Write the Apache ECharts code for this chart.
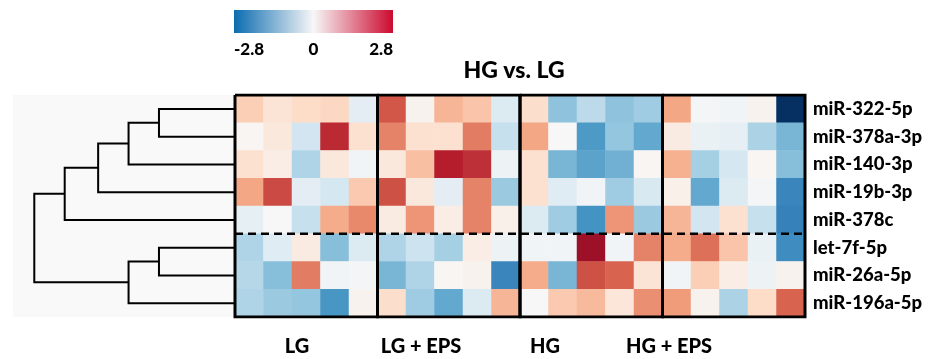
<!DOCTYPE html>
<html>
<head>
<meta charset="utf-8">
<script src="https://cdn.jsdelivr.net/npm/echarts@6/dist/echarts.min.js"></script>
<style>
  html, body { margin: 0; padding: 0; background: #fff; }
  #chart { width: 930px; height: 359px; }
</style>
</head>
<body>
<div id="chart"></div>
<script>
const genes = ['miR-322-5p', 'miR-378a-3p', 'miR-140-3p', 'miR-19b-3p', 'miR-378c', 'let-7f-5p', 'miR-26a-5p', 'miR-196a-5p'];
const groups = ['LG', 'LG + EPS', 'HG', 'HG + EPS'];
const repsPerGroup = 5;
const colorTicks = [-2.8, 0, 2.8];

// z-scores per gene, 5 replicates x 4 groups
const mir322 = [0.7, 0.4, 0.55, 0.6, -0.3, 1.75, 0.1, 0.95, 0.8, -0.4, 0.5, -1.15, -0.75, -1.15, -1.0, 1.1, -0.05, -0.1, 0.1, -2.8];
const mir378a = [0.05, 0.3, -0.55, 2.1, 0.45, 1.4, 0.45, 0.45, 1.45, -0.65, 1.1, 0, -1.6, -1.1, -1.45, 0.25, -0.2, -0.25, -0.9, -1.3];
const mir140 = [0.45, 0.2, -0.85, 0.3, -0.1, 0.3, 0.85, 2.2, 2.05, -0.15, 0.45, -1.3, -1.5, -1.35, 0.05, 1.0, -0.95, -0.5, 0.05, -1.2];
const mir19b = [1.1, 1.85, -0.3, -0.5, 0.75, 1.8, 0.3, -0.3, 1.4, -1.05, 0.45, -0.35, -0.1, -1.0, -0.45, 0.15, -1.45, -0.4, -0.05, -1.85];
const mir378c = [-0.25, 0, -0.65, 1.05, 1.35, 0.25, 1.25, 0.2, 1.4, 0.15, -0.4, -1.0, -1.68, 1.25, -1.05, 0.95, -0.55, 0.45, -0.65, -1.9];
const let7f = [-0.85, -0.35, 0.25, -1.2, -0.4, -0.85, -0.6, -0.95, 0.2, -0.15, -0.1, -0.1, 2.4, -0.1, 1.4, 1.05, 1.55, 0.8, -0.2, -1.75];
const mir26a = [-0.8, -1.2, 1.45, -0.1, -0.05, -1.3, -0.85, 0.05, 0.1, -1.85, 1.05, -1.3, 1.8, 1.65, 0.4, -0.1, 0.7, 0.2, -0.15, 0.1];
const mir196a = [-0.85, -1.05, -1.1, -1.65, 0.1, 0.5, -1.0, -1.45, -0.4, 0.95, 0, 0.75, 0.9, 0.35, 1.3, 1.2, 0.1, -0.9, 0.55, 1.65];
const rows = [mir322, mir378a, mir140, mir19b, mir378c, let7f, mir26a, mir196a];

// dendrogram: [childA, childB, height]; >=0 is a leaf (row), negative is -(merge number)
const merges = [
  [0, 1, 2.5],
  [-1, 2, 3.5],
  [-2, 3, 4.5],
  [-3, 4, 5.6],
  [5, 6, 2.5],
  [-5, 7, 3.5],
  [-4, -6, 6.6]
];
const clusterSplit = 5; // rows above the dashed line

const rdbu = ['#053061', '#2166ac', '#4393c3', '#92c5de', '#d1e5f0', '#f7f7f7',
  '#fddbc7', '#f4a582', '#d6604d', '#b2182b', '#67001f'];
const FONT = 'Lato';
const WEIGHT = 900;

const columns = [];
groups.forEach(g => { for (let i = 1; i <= repsPerGroup; i++) columns.push(g + ' ' + i); });

const heatData = [];
rows.forEach((r, y) => r.forEach((v, x) => heatData.push([x, y, v])));

// tree segments
const nodes = [];
const node = id => (id >= 0 ? { x: 0, y: id } : nodes[-id - 1]);
const treeLines = merges.map(([a, b, h]) => {
  const na = node(a), nb = node(b);
  nodes.push({ x: h, y: (na.y + nb.y) / 2 });
  return { coords: [[na.x, na.y], [h, na.y], [h, nb.y], [nb.x, nb.y]] };
});

// group boxes + cluster divider
const nCols = columns.length, nRows = genes.length;
const boxLines = groups.map((g, i) => {
  const x0 = i * repsPerGroup, x1 = x0 + repsPerGroup;
  return { coords: [[x0, 0], [x1, 0], [x1, nRows], [x0, nRows], [x0, 0]] };
});
const dashLine = [{ coords: [[0, clusterSplit], [nCols, clusterSplit]] }];

const chart = echarts.init(document.getElementById('chart'));
const hidden = { show: false };

chart.setOption({
  animation: false,
  textStyle: { fontFamily: FONT },
  grid: [
    { left: 13, top: 95, width: 222, height: 222, show: true, backgroundColor: '#f9f9f9', borderWidth: 0 },
    { left: 235, top: 95, width: 570, height: 222 },
    { left: 235, top: 95, width: 496, height: 222 },
    {
      left: 234, top: 10, width: 159, height: 23, show: true, borderWidth: 0,
      backgroundColor: new echarts.graphic.LinearGradient(0, 0, 1, 0, [
        { offset: 0, color: '#0b6cb0' },
        { offset: 0.5, color: '#f7f7f7' },
        { offset: 1, color: '#cc0a2f' }
      ])
    }
  ],
  xAxis: [
    { gridIndex: 0, type: 'value', min: 0, max: 7.3, inverse: true, show: false },
    { gridIndex: 1, type: 'category', data: columns, show: false },
    { gridIndex: 1, type: 'value', min: 0, max: nCols, show: false },
    {
      gridIndex: 2, type: 'category', data: groups, position: 'bottom',
      axisLine: hidden, axisTick: hidden, splitLine: hidden,
      axisLabel: { margin: 20, fontSize: 20, fontWeight: WEIGHT, color: '#000', fontFamily: FONT }
    },
    {
      gridIndex: 3, type: 'value', min: colorTicks[0], max: colorTicks[2], interval: colorTicks[2],
      axisLine: hidden, axisTick: hidden, splitLine: hidden,
      axisLabel: {
        margin: 8, fontSize: 17, fontWeight: WEIGHT, color: '#000', fontFamily: FONT,
        alignMinLabel: 'left', alignMaxLabel: 'right'
      }
    }
  ],
  yAxis: [
    { gridIndex: 0, type: 'value', min: -0.5, max: nRows - 0.5, inverse: true, show: false },
    {
      gridIndex: 1, type: 'category', data: genes, inverse: true, position: 'right',
      axisLine: hidden, axisTick: hidden, splitLine: hidden,
      axisLabel: { margin: 8, fontSize: 18.5, fontWeight: WEIGHT, color: '#000', fontFamily: FONT }
    },
    { gridIndex: 1, type: 'value', min: 0, max: nRows, inverse: true, show: false },
    { gridIndex: 2, type: 'value', show: false },
    { gridIndex: 3, type: 'value', show: false }
  ],
  visualMap: {
    type: 'continuous', show: false, seriesIndex: 1,
    min: colorTicks[0], max: colorTicks[2],
    inRange: { color: rdbu }
  },
  graphic: [{
    type: 'text', x: 514, y: 71,
    style: {
      text: 'HG vs. LG', fill: '#000', font: WEIGHT + ' 23px ' + FONT,
      textAlign: 'center', textVerticalAlign: 'middle'
    }
  }],
  series: [
    {
      type: 'lines', coordinateSystem: 'cartesian2d', xAxisIndex: 0, yAxisIndex: 0,
      polyline: true, silent: true, data: treeLines,
      lineStyle: { color: '#000', width: 2, opacity: 1 }
    },
    {
      type: 'heatmap', xAxisIndex: 1, yAxisIndex: 1, data: heatData,
      silent: true, progressive: 0,
      itemStyle: { borderWidth: 0 }
    },
    {
      type: 'lines', coordinateSystem: 'cartesian2d', xAxisIndex: 2, yAxisIndex: 2,
      polyline: true, silent: true, z: 5, data: boxLines,
      lineStyle: { color: '#000', width: 3, opacity: 1 }
    },
    {
      type: 'lines', coordinateSystem: 'cartesian2d', xAxisIndex: 2, yAxisIndex: 2,
      polyline: true, silent: true, z: 5, data: dashLine,
      lineStyle: { color: '#000', width: 2.5, opacity: 1, type: [8, 5] }
    }
  ]
});
</script>
</body>
</html>
